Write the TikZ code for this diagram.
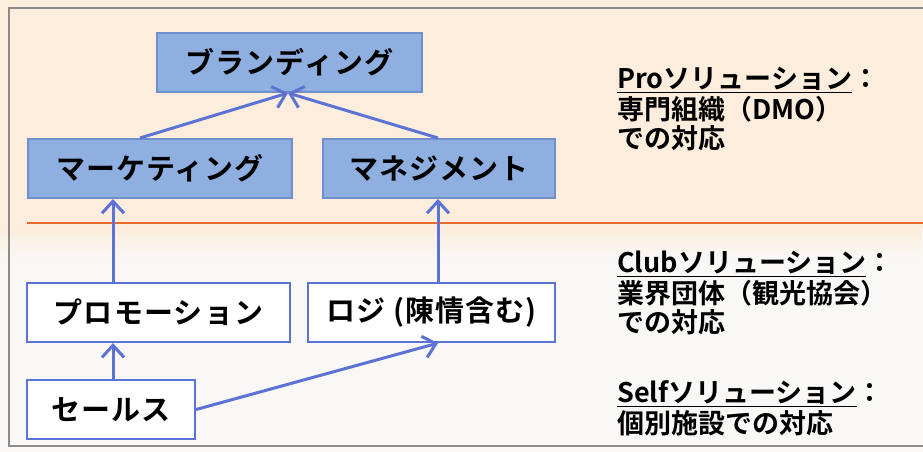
\documentclass[tikz,border=0pt]{standalone}
\usepackage{fontspec}
\setmainfont{Noto Sans CJK JP Bold}
\newfontfamily\boxfont[LetterSpace=4]{Noto Sans CJK JP Bold}
\usetikzlibrary{arrows.meta,fadings}
\definecolor{peach}{HTML}{FCEDDD}
\definecolor{paper}{HTML}{F9F8F6}
\definecolor{boxfill}{HTML}{8FAFE0}
\definecolor{boxedge}{HTML}{6F8FCC}
\definecolor{arrowc}{HTML}{5C72D4}
\definecolor{linec}{HTML}{E8682A}
\definecolor{framec}{HTML}{8C8C8C}
\tikzset{
  tbox/.style={draw=boxedge, line width=2pt, fill=boxfill, minimum height=59pt, inner sep=0pt, font=\boxfont\fontsize{29}{32}\selectfont},
  wbox/.style={draw=arrowc, line width=2.2pt, fill=white, minimum height=59pt, inner sep=0pt, font=\boxfont\fontsize{29}{32}\selectfont},
  conn/.style={draw=arrowc, line width=3pt, -{Straight Barb[length=12pt,width=22pt,line width=3pt]}},
  lbl/.style={anchor=west, inner sep=0pt, font=\fontsize{27}{30}\selectfont},
}
\begin{document}
\begin{tikzpicture}[x=1pt,y=-1pt]
\useasboundingbox (0,0) rectangle (923,452);
\fill[paper] (0,0) rectangle (923,452);
\fill[peach] (0,0) rectangle (923,228);
\fill[peach, path fading=south] (0,228) rectangle (923,258);
\draw[framec, line width=1.2pt] (923,8) -- (9,8) -- (9,446) -- (923,446);
\draw[linec, line width=2.5pt] (27,223) -- (923,223);

\node[tbox, minimum width=265pt] (brand) at (289.5,62.5) {ブランディング};
\node[tbox, minimum width=264pt] (mkt) at (160,168.5) {マーケティング};
\node[tbox, minimum width=232pt] (mgmt) at (439,168.5) {マネジメント};
\node[wbox, minimum width=263pt] (promo) at (158.5,312.5) {プロモーション};
\node[wbox, minimum width=247pt] (logi) at (431.5,312.5) {ロジ (陳情含む)};
\node[wbox, minimum width=168pt] (sales) at (111,409.5) {セールス};

\coordinate (bm) at (288,93);
\draw[conn] ([xshift=-20pt]mkt.north) -- (bm);
\draw[conn] ([xshift=-1pt]mgmt.north) -- (bm);
\draw[conn] (promo.north -| 113,0) -- (mkt.south -| 113,0);
\draw[conn] (logi.north -| 438,0) -- (mgmt.south -| 438,0);
\draw[conn] (sales.north -| 113,0) -- (promo.south -| 113,0);
\draw[conn] (sales.east) -- (logi.south -| 438,0);

\node[lbl] (pro1) at (617,80) {\underline{Proソリューション}：};
\node[lbl] (pro2) at (617,109) {専門組織（DMO）};
\node[lbl] (pro3) at (617,138) {での対応};
\node[lbl] (club1) at (617,264) {\underline{Clubソリューション}：};
\node[lbl] (club2) at (617,293) {業界団体（観光協会）};
\node[lbl] (club3) at (617,322) {での対応};
\node[lbl] (self1) at (617,394) {\underline{Selfソリューション}：};
\node[lbl] (self2) at (617,423) {個別施設での対応};
\end{tikzpicture}
\end{document}
